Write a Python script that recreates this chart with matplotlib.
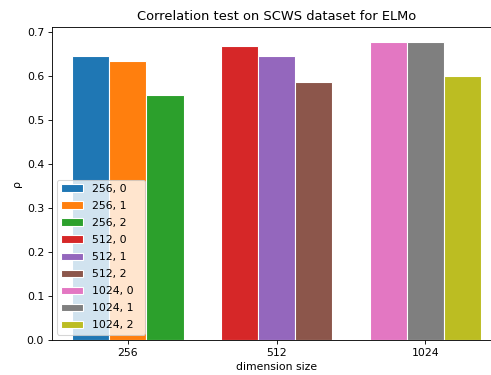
import matplotlib
matplotlib.use("Agg")
import matplotlib.pyplot as plt
import numpy as np

dims = ["256", "512", "1024"]
layers = [0, 1, 2]
scores = {
    "256": [0.645, 0.635, 0.558],
    "512": [0.669, 0.645, 0.586],
    "1024": [0.678, 0.678, 0.600],
}

dpi = 78
fig = plt.figure(figsize=(491 / dpi, 375 / dpi), dpi=dpi)
ax = fig.add_axes([0.1053, 0.0933, 0.916, 0.8347])

width = 0.25
k = 0
for g, d in enumerate(dims):
    for j, layer in enumerate(layers):
        ax.bar(g + (j - 1) * width, scores[d][j], width=width,
               color=f"C{k}", edgecolor="white", label=f"{d}, {layer}  ")
        k += 1

ax.set_xticks(range(len(dims)))
ax.set_xticklabels(dims)
ax.set_xlabel("dimension size")
ax.set_ylabel("ρ")
ax.set_title("Correlation test on SCWS dataset for ELMo")
ax.legend(loc="lower left", fontsize=10, labelspacing=0.65)

fig.savefig("out.png", dpi=dpi)
